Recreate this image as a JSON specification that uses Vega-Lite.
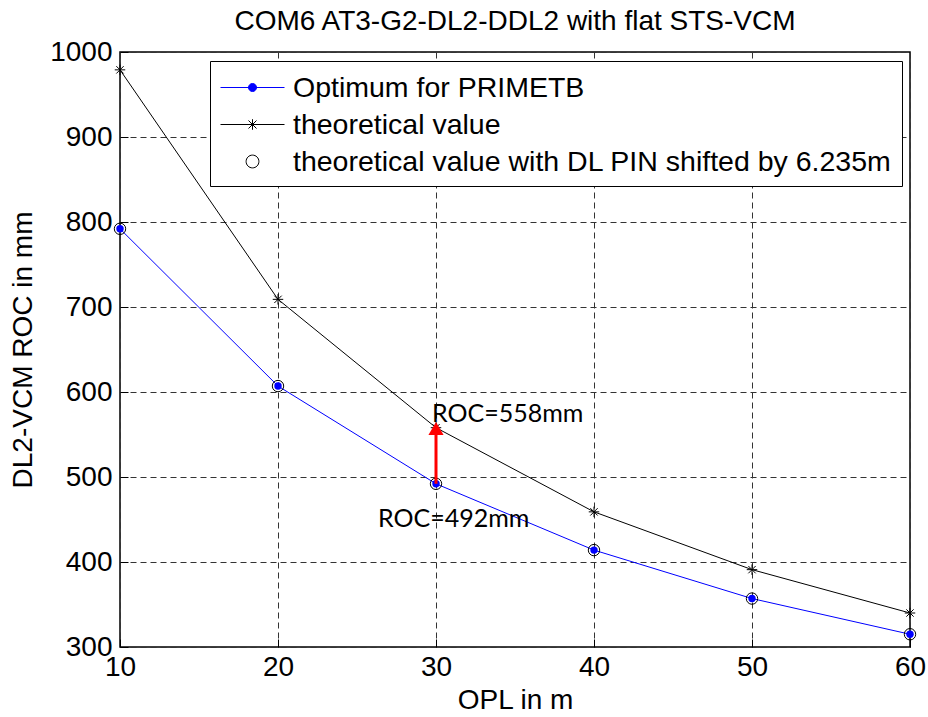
{
  "$schema": "https://vega.github.io/schema/vega-lite/v6.json",
  "width": 790,
  "height": 595,
  "autosize": {"type": "none"},
  "padding": {"left": 120, "top": 52, "right": 18, "bottom": 70},
  "background": "white",
  "title": {
    "text": "COM6 AT3-G2-DL2-DDL2 with flat STS-VCM",
    "font": "Liberation Sans",
    "fontSize": 28,
    "fontWeight": "normal",
    "color": "black",
    "anchor": "middle",
    "offset": 2
  },
  "config": {
    "view": {"stroke": "black", "strokeWidth": 1.5},
    "axis": {
      "domain": false,
      "labelFont": "Liberation Sans",
      "labelFontSize": 28,
      "labelColor": "black",
      "titleFont": "Liberation Sans",
      "titleFontSize": 28,
      "titleFontWeight": "normal",
      "titleColor": "black",
      "tickColor": "black",
      "tickSize": -8,
      "grid": true,
      "gridDash": [6, 4],
      "gridColor": "#333333",
      "gridWidth": 1
    }
  },
  "datasets": {
    "curves": [
      {"opl": 10, "roc": 792, "series": "Optimum for PRIMETB"},
      {"opl": 20, "roc": 607, "series": "Optimum for PRIMETB"},
      {"opl": 30, "roc": 492, "series": "Optimum for PRIMETB"},
      {"opl": 40, "roc": 414, "series": "Optimum for PRIMETB"},
      {"opl": 50, "roc": 357, "series": "Optimum for PRIMETB"},
      {"opl": 60, "roc": 315, "series": "Optimum for PRIMETB"},
      {"opl": 10, "roc": 979, "series": "theoretical value"},
      {"opl": 20, "roc": 709, "series": "theoretical value"},
      {"opl": 30, "roc": 558, "series": "theoretical value"},
      {"opl": 40, "roc": 459, "series": "theoretical value"},
      {"opl": 50, "roc": 391, "series": "theoretical value"},
      {"opl": 60, "roc": 340, "series": "theoretical value"},
      {"opl": 10, "roc": 792, "series": "theoretical value with DL PIN shifted by 6.235m"},
      {"opl": 20, "roc": 607, "series": "theoretical value with DL PIN shifted by 6.235m"},
      {"opl": 30, "roc": 492, "series": "theoretical value with DL PIN shifted by 6.235m"},
      {"opl": 40, "roc": 414, "series": "theoretical value with DL PIN shifted by 6.235m"},
      {"opl": 50, "roc": 357, "series": "theoretical value with DL PIN shifted by 6.235m"},
      {"opl": 60, "roc": 315, "series": "theoretical value with DL PIN shifted by 6.235m"}
    ],
    "arrow": [
      {"opl": 30, "start": 492, "end": 557}
    ],
    "notes": [
      {"opl": 30, "roc": 558, "label": "ROC=558mm", "pos": "upper"},
      {"opl": 30, "roc": 492, "label": "ROC=492mm", "pos": "lower"}
    ]
  },
  "layer": [
    {
      "data": {"name": "curves"},
      "transform": [{"filter": "datum.series !== 'theoretical value with DL PIN shifted by 6.235m'"}],
      "mark": {"type": "line", "strokeWidth": 1, "clip": false},
      "encoding": {
        "x": {
          "field": "opl", "type": "quantitative",
          "scale": {"domain": [10, 60], "nice": false},
          "axis": {"title": "OPL in m", "values": [10, 20, 30, 40, 50, 60], "labelPadding": 14, "titlePadding": 5, "labelFlush": false}
        },
        "y": {
          "field": "roc", "type": "quantitative",
          "scale": {"domain": [300, 1000], "nice": false, "zero": false},
          "axis": {"title": "DL2-VCM ROC in mm", "format": "d", "values": [300, 400, 500, 600, 700, 800, 900, 1000], "labelPadding": 16, "titlePadding": 12}
        },
        "color": {
          "field": "series", "type": "nominal",
          "scale": {
            "domain": ["Optimum for PRIMETB", "theoretical value", "theoretical value with DL PIN shifted by 6.235m"],
            "range": ["#0000ff", "#000000", "#000000"]
          },
          "legend": {
            "title": null,
            "orient": "none",
            "legendX": 90,
            "legendY": 9,
            "fillColor": "white",
            "strokeColor": "black",
            "padding": 10,
            "labelFont": "Liberation Sans",
            "labelFontSize": 28.5,
            "labelColor": "black",
            "labelLimit": 900,
            "labelOffset": 40,
            "symbolSize": 1024,
            "rowPadding": 6,
            "encode": {
              "symbols": {
                "update": {
                  "shape": [
                    {"test": "datum.value === 'Optimum for PRIMETB'", "value": "M-1,0H3M1.25,0A0.25,0.25 0 1,1 0.75,0A0.25,0.25 0 1,1 1.25,0Z"},
                    {"test": "datum.value === 'theoretical value'", "value": "M-1,0H3M1,-0.33V0.33M0.75,-0.25L1.25,0.25M0.75,0.25L1.25,-0.25"},
                    {"value": "M1.4,0A0.4,0.4 0 1,1 0.6,0A0.4,0.4 0 1,1 1.4,0Z"}
                  ],
                  "fill": [
                    {"test": "datum.value === 'Optimum for PRIMETB'", "value": "#0000ff"},
                    {"value": "transparent"}
                  ],
                  "stroke": [
                    {"test": "datum.value === 'Optimum for PRIMETB'", "value": "#0000ff"},
                    {"value": "#000000"}
                  ],
                  "strokeWidth": {"value": 1},
                  "strokeDash": {"value": []},
                  "size": {"value": 1024},
                  "opacity": {"value": 1}
                }
              }
            }
          }
        }
      }
    },
    {
      "data": {"name": "curves"},
      "transform": [{"filter": "datum.series === 'Optimum for PRIMETB'"}],
      "mark": {"type": "point", "shape": "circle", "filled": true, "color": "#0000ff", "size": 55, "opacity": 1, "clip": false},
      "encoding": {"x": {"field": "opl", "type": "quantitative"}, "y": {"field": "roc", "type": "quantitative"}}
    },
    {
      "data": {"name": "curves"},
      "transform": [{"filter": "datum.series === 'theoretical value'"}],
      "mark": {"type": "point", "shape": "M-1,0H1M0,-1V1M-0.7,-0.7L0.7,0.7M-0.7,0.7L0.7,-0.7", "filled": false, "color": "#000000", "size": 110, "strokeWidth": 1, "opacity": 1, "clip": false},
      "encoding": {"x": {"field": "opl", "type": "quantitative"}, "y": {"field": "roc", "type": "quantitative"}}
    },
    {
      "data": {"name": "curves"},
      "transform": [{"filter": "datum.series === 'theoretical value with DL PIN shifted by 6.235m'"}],
      "mark": {"type": "point", "shape": "circle", "filled": false, "color": "#000000", "size": 130, "strokeWidth": 1, "opacity": 1, "clip": false},
      "encoding": {"x": {"field": "opl", "type": "quantitative"}, "y": {"field": "roc", "type": "quantitative"}}
    },
    {
      "data": {"name": "arrow"},
      "mark": {"type": "rule", "color": "#ff0000", "strokeWidth": 3},
      "encoding": {
        "x": {"field": "opl", "type": "quantitative"},
        "y": {"field": "start", "type": "quantitative"},
        "y2": {"field": "end"}
      }
    },
    {
      "data": {"name": "arrow"},
      "mark": {"type": "point", "shape": "triangle-up", "filled": true, "color": "#ff0000", "size": 230, "opacity": 1},
      "encoding": {
        "x": {"field": "opl", "type": "quantitative"},
        "y": {"field": "end", "type": "quantitative"}
      }
    },
    {
      "data": {"name": "notes"},
      "transform": [{"filter": "datum.pos === 'upper'"}],
      "mark": {"type": "text", "font": "Lato", "fontSize": 25, "align": "left", "baseline": "alphabetic", "dx": -4, "dy": -6, "color": "black"},
      "encoding": {
        "x": {"field": "opl", "type": "quantitative"},
        "y": {"field": "roc", "type": "quantitative"},
        "text": {"field": "label"}
      }
    },
    {
      "data": {"name": "notes"},
      "transform": [{"filter": "datum.pos === 'lower'"}],
      "mark": {"type": "text", "font": "Lato", "fontSize": 25, "align": "left", "baseline": "alphabetic", "dx": -58, "dy": 43, "color": "black"},
      "encoding": {
        "x": {"field": "opl", "type": "quantitative"},
        "y": {"field": "roc", "type": "quantitative"},
        "text": {"field": "label"}
      }
    }
  ]
}
